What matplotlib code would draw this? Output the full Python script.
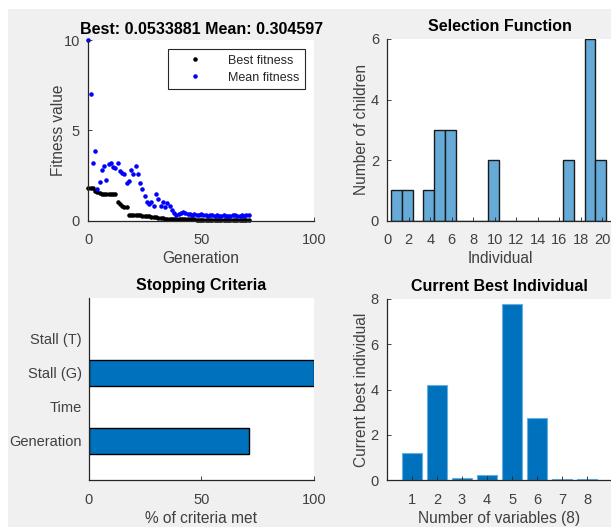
import numpy as np
import matplotlib
matplotlib.use("Agg")
import matplotlib.pyplot as plt
from matplotlib.patches import Rectangle

plt.rcParams['font.family'] = ['Liberation Sans', 'DejaVu Sans']
plt.rcParams['font.size'] = 10

# %%
# GA run data
generation = np.arange(0, 72)
best_fitness = [1.82, 1.82, 1.80, 1.62, 1.58, 1.55, 1.50, 1.48, 1.47, 1.47,
                1.47, 1.47, 1.47, 1.02, 0.90, 0.80, 0.76, 0.75, 0.30, 0.30,
                0.30, 0.30, 0.29, 0.29, 0.28, 0.28, 0.28, 0.27, 0.22, 0.20,
                0.18, 0.17, 0.15, 0.14, 0.12, 0.11, 0.10, 0.09, 0.09, 0.08,
                0.08, 0.07, 0.07, 0.07, 0.07, 0.07, 0.07, 0.07, 0.06, 0.06,
                0.06, 0.06, 0.06, 0.06, 0.06, 0.06, 0.06, 0.06, 0.06, 0.06,
                0.055, 0.055, 0.055, 0.055, 0.055, 0.055, 0.054, 0.054, 0.054, 0.054,
                0.0534, 0.0534]
mean_fitness = [10.0, 7.0, 3.18, 3.87, 1.74, 2.16, 2.80, 3.05, 2.25, 3.12,
                3.18, 2.99, 2.90, 3.21, 2.75, 2.66, 2.58, 2.07, 2.22, 2.81,
                2.58, 3.03, 2.58, 2.07, 1.77, 1.39, 1.02, 0.92, 1.02, 0.83,
                1.48, 1.18, 0.83, 1.02, 0.74, 0.96, 0.83, 0.59, 0.41, 0.30,
                0.35, 0.40, 0.50, 0.45, 0.35, 0.38, 0.30, 0.35, 0.30, 0.32,
                0.35, 0.30, 0.33, 0.28, 0.30, 0.32, 0.28, 0.30, 0.26, 0.28,
                0.30, 0.27, 0.25, 0.28, 0.30, 0.33, 0.25, 0.28, 0.30, 0.27,
                0.30, 0.30]
title_best = 0.0533881
title_mean = 0.304597

# selection histogram
individual = np.arange(1, 21)
children = [1, 1, 0, 1, 3, 3, 0, 0, 0, 2, 0, 0, 0, 0, 0, 0, 2, 0, 6, 2]

# stopping criteria
criteria = ['Generation', 'Time', 'Stall (G)', 'Stall (T)']
criteria_met = [71, 0, 100, 0]

# current best individual
variables = np.arange(1, 9)
best_individual = [1.2, 4.2, 0.1, 0.2, 7.8, 2.75, 0.05, 0.03]

# %%
W, H = 611, 527
fig = plt.figure(figsize=(W / 100, H / 100), dpi=100, facecolor='white')
fig.patches.append(Rectangle((8 / W, 0), 1, 1 - 9 / H, transform=fig.transFigure,
                             facecolor='#f0f0f0', edgecolor='none', zorder=-10))

txt = '#404040'
title_fs = 11.5
label_fs = 11.2


def style(ax):
    ax.spines['top'].set_visible(False)
    ax.spines['right'].set_visible(False)
    for s in ['left', 'bottom']:
        ax.spines[s].set_color('#262626')
        ax.spines[s].set_linewidth(0.9)
    ax.tick_params(direction='in', length=3, width=0.6, color='#262626',
                   labelcolor=txt, labelsize=10.5, pad=6)
    ax.tick_params(axis='x', pad=9)


def box(l, r, t, b):
    return [l / W, 1 - b / H, (r - l) / W, (b - t) / H]


# Top left: fitness
ax1 = fig.add_axes(box(88.3, 314, 40, 220.7))
style(ax1)
ax1.plot(generation, best_fitness, '.', color='black', markersize=4.5,
         label='Best fitness', clip_on=False)
ax1.plot(generation, mean_fitness, '.', color='blue', markersize=4.5,
         label='Mean fitness', clip_on=False)
ax1.set_xlim(0, 100)
ax1.set_ylim(0, 10)
ax1.set_xticks([0, 50, 100])
ax1.set_yticks([0, 5, 10])
ax1.set_title('Best: %g Mean: %g' % (title_best, title_mean), fontsize=title_fs,
              fontweight='bold', pad=4)
ax1.set_xlabel('Generation', color=txt, fontsize=label_fs, labelpad=3)
ax1.set_ylabel('Fitness value', color=txt, fontsize=label_fs, labelpad=-2)
leg = ax1.legend(loc='upper right', bbox_to_anchor=(0.958, 0.95), fancybox=False,
                 edgecolor='#262626', fontsize=9, handlelength=3.4, handletextpad=0.9,
                 borderpad=0.45, labelspacing=0.4, framealpha=1, borderaxespad=0)
leg.get_frame().set_linewidth(0.8)
for t in leg.get_texts():
    t.set_color('#262626')

# Top right: selection histogram
ax2 = fig.add_axes(box(387.3, 613, 39, 220.7))
style(ax2)
ax2.bar(individual - 0.14, children, width=1.0, color='#66aad7', edgecolor='#1a1a1a',
        linewidth=1.0)
ax2.set_xlim(0, 21)
ax2.set_ylim(0, 6)
ax2.set_xticks(np.arange(0, 21, 2))
ax2.set_yticks([0, 2, 4, 6])
ax2.set_title('Selection Function', fontsize=title_fs, fontweight='bold', pad=6)
ax2.set_xlabel('Individual', color=txt, fontsize=label_fs, labelpad=3)
ax2.set_ylabel('Number of children', color=txt, fontsize=label_fs, labelpad=1)

# Bottom left: stopping criteria
ax3 = fig.add_axes(box(88.7, 314, 298, 480))
style(ax3)
ypos = np.arange(1, len(criteria) + 1)
edges = ['black' if v > 0 else 'none' for v in criteria_met]
ax3.barh(ypos, criteria_met, height=0.75, color='#0072bd', edgecolor=edges, linewidth=1.0)
ax3.set_xlim(0, 100)
ax3.set_ylim(-0.15, 5.2)
ax3.set_xticks([0, 50, 100])
ax3.set_yticks(ypos)
ax3.set_yticklabels(criteria)
ax3.tick_params(axis='y', length=0, pad=5)
ax3.set_title('Stopping Criteria', fontsize=title_fs, fontweight='bold', pad=6)
ax3.set_xlabel('% of criteria met', color=txt, fontsize=label_fs, labelpad=3)

# Bottom right: current best individual
ax4 = fig.add_axes(box(386.7, 612.4, 299, 480))
style(ax4)
ax4.bar(variables, best_individual, width=0.8, color='#0072bd', edgecolor='#6aaee0',
        linewidth=0.8)
ax4.set_xlim(0, 9)
ax4.set_ylim(0, 8)
ax4.set_xticks(variables)
ax4.set_yticks([0, 2, 4, 6, 8])
ax4.set_title('Current Best Individual', fontsize=title_fs, fontweight='bold', pad=6)
ax4.set_xlabel('Number of variables (8)', color=txt, fontsize=label_fs, labelpad=3)
ax4.set_ylabel('Current best individual', color=txt, fontsize=label_fs, labelpad=1)

fig.savefig('out.png', dpi=100)
